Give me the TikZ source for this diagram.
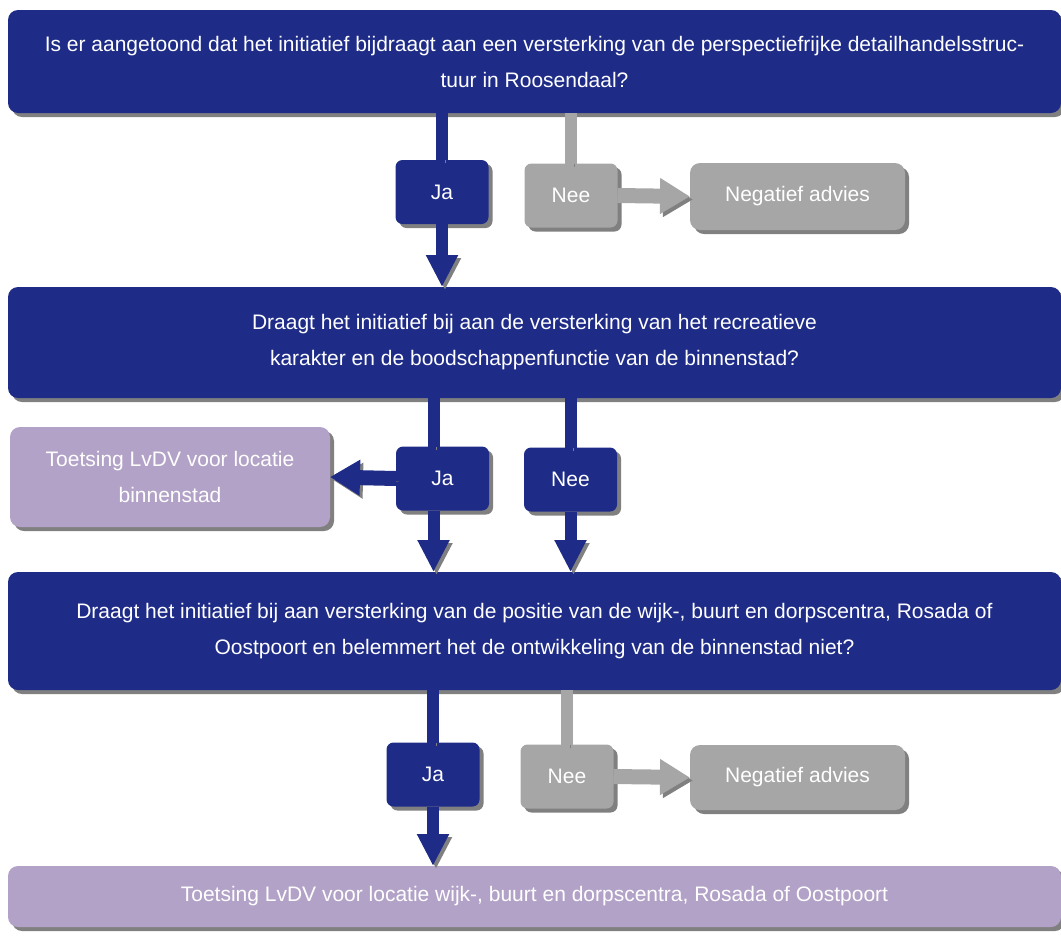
\documentclass[tikz,border=0pt]{standalone}
\usepackage{fontspec}
\setmainfont{Liberation Sans}
\usetikzlibrary{positioning,arrows.meta,shadows}

\definecolor{navy}{RGB}{30,44,136}
\definecolor{greybox}{RGB}{166,166,166}
\definecolor{lilac}{RGB}{178,162,199}
\definecolor{shade}{RGB}{128,128,128}

\begin{document}
\begin{tikzpicture}[x=1pt,y=-1pt,
  every node/.style={text=white, align=center, inner sep=0pt, outer sep=0pt, font=\fontsize{21}{36}\selectfont,
    drop shadow={shadow xshift=4pt, shadow yshift=-4pt, fill=shade, opacity=1}},
  question/.style={fill=navy, rounded corners=10pt, minimum width=1053pt},
  answer/.style={rounded corners=7pt, minimum width=93pt, minimum height=64pt},
  result/.style={rounded corners=10pt},
  flow/.style={line width=12pt, draw=navy, preaction={draw=shade, transform canvas={shift={(3pt,-3pt)}}}},
  flowhead/.style={flow, -{Triangle[length=32pt,width=30pt]}},
  sideflow/.style={flow, line width=15pt, -{Triangle[length=30pt,width=34pt]}}]
\useasboundingbox (0,0) rectangle (1061,938);

% vragen
\node[question, minimum height=103pt] (q1) at (534.5,61.5) {Is er aangetoond dat het initiatief bijdraagt aan een versterking van de perspectiefrijke detailhandelsstruc-\\tuur in Roosendaal?};
\node[question, minimum height=111pt] (q2) at (534.5,342.5) {Draagt het initiatief bij aan de versterking van het recreatieve\\karakter en de boodschappenfunctie van de binnenstad?};
\node[question, minimum height=118pt] (q3) at (534.5,631) {Draagt het initiatief bij aan versterking van de positie van de wijk-, buurt en dorpscentra, Rosada of\\Oostpoort en belemmert het de ontwikkeling van de binnenstad niet?};
\node[question, fill=lilac, minimum height=61pt] (t2) at (534.5,896.5) {Toetsing LvDV voor locatie wijk-, buurt en dorpscentra, Rosada of Oostpoort};

% antwoorden
\node[answer, fill=navy] (ja1) at (442,192) {Ja};
\node[answer, fill=greybox] (nee1) at (571,195.5) {Nee};
\node[result, fill=greybox, minimum width=215pt, minimum height=67pt] (neg1) at (797.5,196.5) {Negatief advies};
\node[answer, fill=navy] (ja2) at (442.5,478.5) {Ja};
\node[answer, fill=navy] (nee2) at (570.5,479.5) {Nee};
\node[result, fill=lilac, minimum width=320pt, minimum height=100pt] (t1) at (170,477) {Toetsing LvDV voor locatie\\binnenstad};
\node[answer, fill=navy] (ja3) at (433,774.5) {Ja};
\node[answer, fill=greybox] (nee3) at (567,776.5) {Nee};
\node[result, fill=greybox, minimum width=215pt, minimum height=65pt] (neg2) at (797.5,777.5) {Negatief advies};

% verbindingen
\draw[flow] (q1.south -| ja1) -- (ja1.north);
\draw[flowhead] (ja1.south) -- (ja1 |- q2.north);
\draw[flow, draw=greybox] (q1.south -| nee1) -- (nee1.north);
\draw[sideflow, draw=greybox] (nee1.east) -- (neg1.west);
\draw[flow] ([xshift=-9pt]q2.south -| ja2) -- ([xshift=-9pt]ja2.north);
\draw[flowhead] ([xshift=-9pt]ja2.south) -- ([xshift=-9pt]ja2 |- q3.north);
\draw[sideflow] (ja2.west) -- (t1.east);
\draw[flow] (q2.south -| nee2) -- (nee2.north);
\draw[flowhead] (nee2.south) -- (nee2 |- q3.north);
\draw[flow] (q3.south -| ja3) -- (ja3.north);
\draw[flowhead] (ja3.south) -- (ja3 |- t2.north);
\draw[flow, draw=greybox] (q3.south -| nee3) -- (nee3.north);
\draw[sideflow, draw=greybox] (nee3.east) -- (neg2.west);
\end{tikzpicture}
\end{document}
